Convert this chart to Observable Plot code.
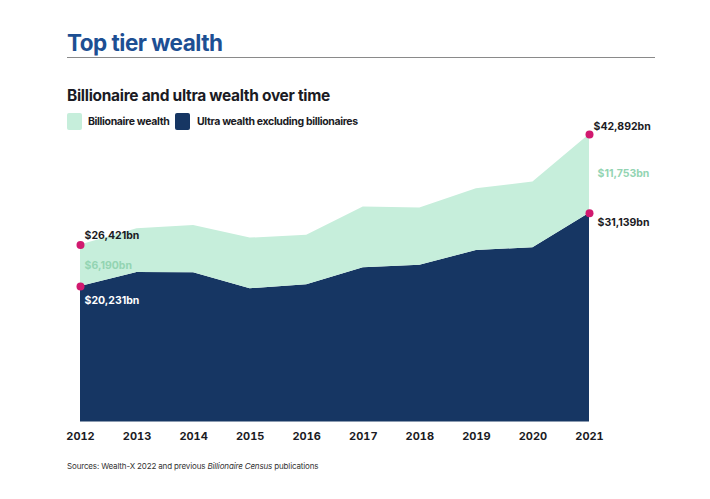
<!DOCTYPE html>
<html>
<head>
<meta charset="utf-8">
<script src="https://cdn.jsdelivr.net/npm/d3@7"></script>
<script src="https://cdn.jsdelivr.net/npm/@observablehq/plot@0.6"></script>
<style>
  body { margin: 0; background: #fff; font-family: Inter, "Noto Sans", sans-serif; }
  #wrap { position: relative; width: 710px; height: 499px; overflow: hidden; }
  .abs { position: absolute; white-space: nowrap; }
  #title { left: 67px; top: 29px; font-size: 22.5px; font-weight: 700; color: #1d4f93; letter-spacing: -0.5px; }
  #rule { left: 67px; top: 57px; width: 588px; height: 0; border-top: 1px solid #8a8a8a; }
  #subtitle { left: 67px; top: 86px; font-size: 15.5px; font-weight: 700; color: #1b1b24; letter-spacing: -0.3px; }
  .sw { position: absolute; width: 15px; height: 17px; border-radius: 2px; top: 113px; }
  .lg { position: absolute; top: 115px; font-size: 10.5px; font-weight: 700; color: #1b1b24; letter-spacing: -0.35px; }
  #chart { position: absolute; left: 0; top: 110px; }
  #caption { left: 67px; top: 461px; font-size: 8px; color: #333; letter-spacing: -0.15px; }
</style>
</head>
<body>
<div id="wrap">
  <div id="title" class="abs">Top tier wealth</div>
  <div id="rule" class="abs"></div>
  <div id="subtitle" class="abs">Billionaire and ultra wealth over time</div>
  <div class="sw" style="left:67px;background:#c6eedb"></div>
  <div class="lg" style="left:88px">Billionaire wealth</div>
  <div class="sw" style="left:175px;background:#163663"></div>
  <div class="lg" style="left:197px">Ultra wealth excluding billionaires</div>
  <div id="chart"></div>
  <div id="caption" class="abs">Sources: Wealth-X 2022 and previous <i>Billionaire Census</i> publications</div>
</div>
<script>
const years = [2012, 2013, 2014, 2015, 2016, 2017, 2018, 2019, 2020, 2021];
const ultraWealth = [20231, 22300, 22250, 19880, 20480, 23020, 23370, 25600, 26010, 31139];
const billionaireWealth = [6190, 6520, 7090, 7560, 7370, 9055, 8560, 9220, 9800, 11753];
const seriesNames = ["Ultra wealth excluding billionaires", "Billionaire wealth"];
const seriesColors = ["#163663", "#c6eedb"];

const rows = [];
years.forEach((yr, i) => {
  rows.push({year: yr, series: seriesNames[0], value: ultraWealth[i]});
  rows.push({year: yr, series: seriesNames[1], value: billionaireWealth[i]});
});

const first = 0, last = years.length - 1;
const totals = years.map((y, i) => ultraWealth[i] + billionaireWealth[i]);
const fmt = v => "$" + d3.format(",")(v) + "bn";

const dots = [
  {year: years[first], v: totals[first]},
  {year: years[first], v: ultraWealth[first]},
  {year: years[last], v: totals[last]},
  {year: years[last], v: ultraWealth[last]}
];

const labels = [
  {year: years[first], v: totals[first], text: fmt(totals[first]), color: "#1b1b24", dx: 4, dy: -9},
  {year: years[first], v: (totals[first] + ultraWealth[first]) / 2, text: fmt(billionaireWealth[first]), color: "#93d4b2", dx: 4, dy: 0},
  {year: years[first], v: ultraWealth[first], text: fmt(ultraWealth[first]), color: "#ffffff", dx: 4, dy: 14},
  {year: years[last], v: totals[last], text: fmt(totals[last]), color: "#1b1b24", dx: 4, dy: -8},
  {year: years[last], v: (totals[last] + ultraWealth[last]) / 2, text: fmt(billionaireWealth[last]), color: "#93d4b2", dx: 8, dy: 0},
  {year: years[last], v: ultraWealth[last], text: fmt(ultraWealth[last]), color: "#1b1b24", dx: 8, dy: 9}
];

const labelMarks = labels.map(l => Plot.text([l], {
  x: "year", y: "v", text: "text", fill: l.color, dx: l.dx, dy: l.dy,
  textAnchor: "start", fontSize: 10.5, fontWeight: 700, style: "letter-spacing:-0.2px"
}));

const chart = Plot.plot({
  width: 710,
  height: 340,
  marginLeft: 80,
  marginRight: 121,
  marginTop: 10,
  marginBottom: 28.6,
  style: {fontFamily: "Inter, 'Noto Sans', sans-serif", background: "transparent"},
  x: {domain: [years[first], years[last]], ticks: years, tickFormat: "d", label: null},
  y: {domain: [0, 45000], axis: null},
  color: {domain: seriesNames, range: seriesColors},
  marks: [
    Plot.areaY(rows, {x: "year", y: "value", fill: "series", order: seriesNames, curve: "linear"}),
    Plot.axisX({ticks: years, tickFormat: "d", tickSize: 0, tickPadding: 10, fontSize: 11, fontWeight: 700, fill: "#1b1b24", label: null}),
    Plot.dot(dots, {x: "year", y: "v", r: 4, fill: "#d1196f", stroke: "none"}),
    ...labelMarks
  ]
});
document.getElementById("chart").appendChild(chart);
</script>
</body>
</html>
